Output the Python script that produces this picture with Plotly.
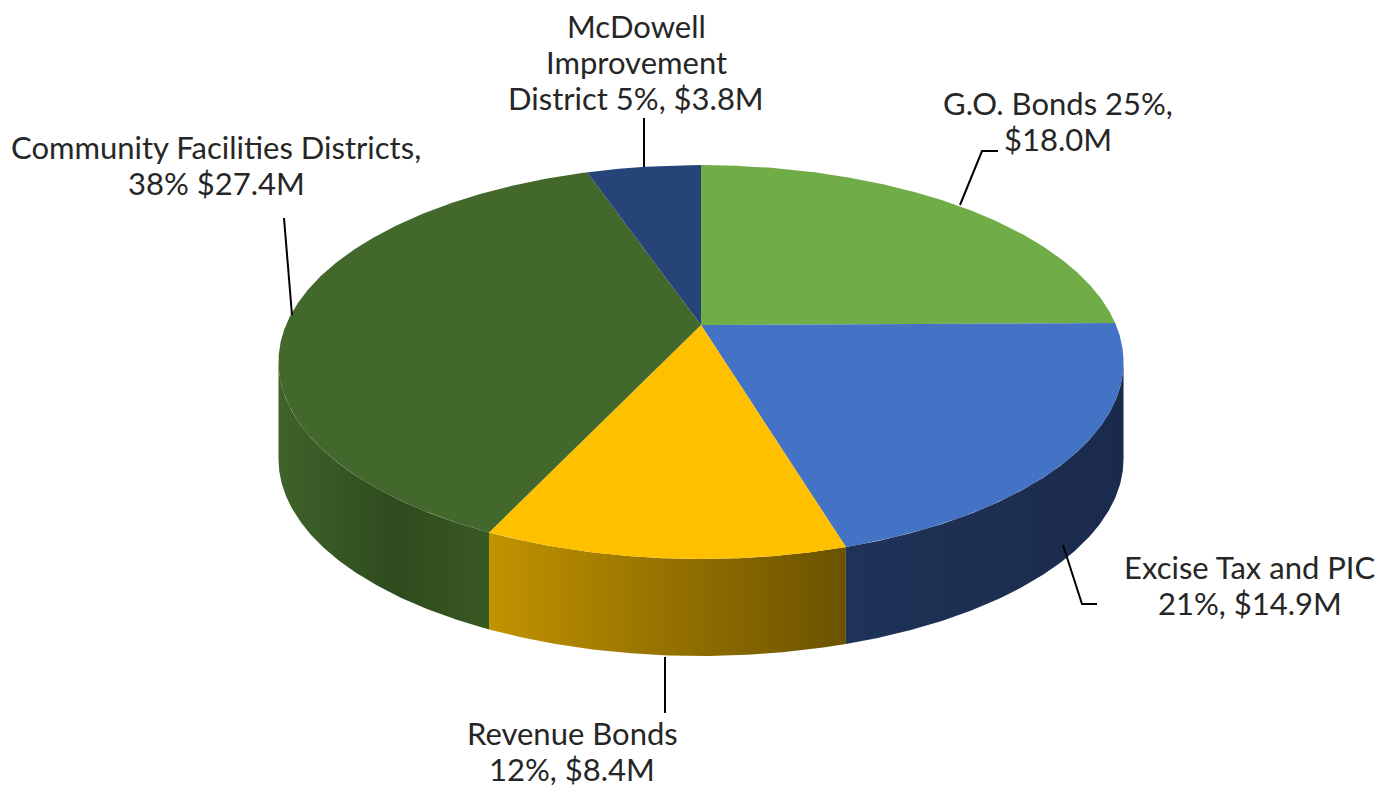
import math
import numpy as np
import plotly.graph_objects as go

# Capital funding sources ($ millions), clockwise from 12 o'clock
sources = ["G.O. Bonds", "Excise Tax and PIC", "Revenue Bonds",
           "Community Facilities Districts", "McDowell Improvement District"]
amounts = [18.0, 14.9, 8.4, 27.4, 3.8]

# Label lines for each source ({p} = percent, {v} = amount)
label_lines = [
    ["G.O. Bonds {p}%,", "${v}M"],
    ["Excise Tax and PIC", "{p}%, ${v}M"],
    ["Revenue Bonds", "{p}%, ${v}M"],
    ["Community Facilities Districts,", "{p}% ${v}M"],
    ["McDowell", "Improvement", "District {p}%, ${v}M"],
]

top_colors = ["#70AD47", "#4472C4", "#FFC000", "#43682B", "#264478"]
side_scales = [
    [[0, "#4E8A33"], [1, "#3F7028"]],
    [[0, "#1F3358"], [1, "#1A2A4C"]],
    [[0, "#C29300"], [0.5, "#957200"], [1, "#6C5200"]],
    [[0, "#3F632A"], [0.55, "#2F4B1E"], [1, "#385822"]],
    [[0, "#1F3864"], [1, "#1F3864"]],
]

# Label placement (line centres) and leader-line paths
label_pos = [(1058, 103), (1250, 567), (572, 733), (216, 147), (636, 26)]
line_gap = 36
leaders = [
    [(998, 151), (982, 151), (960, 205)],
    [(1063, 545), (1082, 604), (1097, 604)],
    [(665, 657), (665, 713)],
    [(284, 218), (292, 315)],
    [(644, 118), (644, 167)],
]

# Perspective disc projection
CX, CY = 701, 325
RX, RY = 415, 190
K = 0.188
H = 97


def proj(theta, r=1.0, drop=0.0):
    t = np.radians(theta)
    sx = r * np.sin(t)
    d = r * np.cos(t)
    den = 1 + K * d
    return CX + RX * sx / den, CY - RY * d / den + drop


total = sum(amounts)
bounds = np.concatenate([[0], np.cumsum(amounts) / total * 360])
theta_r = math.degrees(math.acos(-K))
theta_l = 360 - theta_r

fig = go.Figure()

# Visible rim walls
for i in range(len(amounts)):
    a, b = max(bounds[i], theta_r), min(bounds[i + 1], theta_l)
    if b <= a:
        continue
    th = np.linspace(a, b, 200)
    xt, yt = proj(th)
    xb, yb = proj(th[::-1], drop=H)
    fig.add_trace(go.Scatter(
        x=np.concatenate([xt, xb, xt[:1]]), y=np.concatenate([yt, yb, yt[:1]]),
        mode="lines", line=dict(width=0), fill="toself",
        fillcolor=side_scales[i][0][1],
        fillgradient=dict(type="horizontal", colorscale=side_scales[i]),
        hoverinfo="skip", showlegend=False))

# Top faces
for i in range(len(amounts)):
    th = np.linspace(bounds[i], bounds[i + 1], 300)
    xr, yr = proj(th)
    x0, y0 = proj(0.0, r=0.0)
    fig.add_trace(go.Scatter(
        x=np.concatenate([[x0], xr, [x0]]), y=np.concatenate([[y0], yr, [y0]]),
        mode="lines", line=dict(width=0), fill="toself",
        fillcolor=top_colors[i], name=sources[i],
        hoverinfo="name", showlegend=False))

# Leader lines
for pts in leaders:
    fig.add_trace(go.Scatter(
        x=[p[0] for p in pts], y=[p[1] for p in pts], mode="lines",
        line=dict(color="#000000", width=2), hoverinfo="skip", showlegend=False))

# Labels
annotations = []
for i, lines in enumerate(label_lines):
    pct = round(amounts[i] / total * 100)
    cx, cy = label_pos[i]
    for j, ln in enumerate(lines):
        annotations.append(dict(
            x=cx, y=cy + j * line_gap, xref="x", yref="y",
            text=ln.format(p=pct, v=f"{amounts[i]:.1f}"),
            showarrow=False, xanchor="center", yanchor="middle",
            font=dict(family="Lato", size=31, color="#262626")))

fig.update_layout(
    width=1397, height=788,
    margin=dict(l=0, r=0, t=0, b=0),
    paper_bgcolor="white", plot_bgcolor="white",
    xaxis=dict(range=[0, 1397], visible=False, fixedrange=True),
    yaxis=dict(range=[788, 0], visible=False, fixedrange=True),
    annotations=annotations,
)

fig.write_html("out.html")
